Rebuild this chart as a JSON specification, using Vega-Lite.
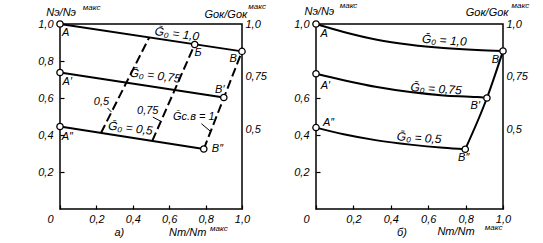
{
  "$schema": "https://vega.github.io/schema/vega-lite/v6.json",
  "background": "white",
  "padding": {"left": 36, "top": 1, "right": 0, "bottom": 0},
  "bounds": "flush",
  "spacing": 74,
  "config": {
    "view": {"stroke": "black", "strokeWidth": 1.5},
    "axis": {"grid": false, "domain": false, "labelFont": "Liberation Sans", "labelFontStyle": "italic", "labelFontSize": 11, "labelColor": "black", "tickColor": "black", "tickWidth": 1.2, "labelOverlap": false, "labelFlush": false},
    "text": {"font": "Liberation Sans", "fontStyle": "italic", "color": "black"}
  },
  "datasets": {
    "lines": [
      {"p": "a", "k": "curve", "s": "A", "x": 0, "y": 1.0},
      {"p": "a", "k": "curve", "s": "A", "x": 1.0, "y": 0.852},
      {"p": "a", "k": "curve", "s": "A1", "x": 0, "y": 0.738},
      {"p": "a", "k": "curve", "s": "A1", "x": 0.9, "y": 0.603},
      {"p": "a", "k": "curve", "s": "A2", "x": 0, "y": 0.446},
      {"p": "a", "k": "curve", "s": "A2", "x": 0.79, "y": 0.324},
      {"p": "a", "k": "dash", "s": "d05", "x": 0.225, "y": 0.411},
      {"p": "a", "k": "dash", "s": "d05", "x": 0.49, "y": 0.927},
      {"p": "a", "k": "dash", "s": "d075", "x": 0.507, "y": 0.368},
      {"p": "a", "k": "dash", "s": "d075", "x": 0.74, "y": 0.889},
      {"p": "a", "k": "dash", "s": "d1", "x": 0.79, "y": 0.324},
      {"p": "a", "k": "dash", "s": "d1", "x": 1.0, "y": 0.852},
      {"p": "a", "k": "lead", "s": "l1", "x": 0.261, "y": 0.546},
      {"p": "a", "k": "lead", "s": "l1", "x": 0.282, "y": 0.525},
      {"p": "a", "k": "lead", "s": "l2", "x": 0.51, "y": 0.497},
      {"p": "a", "k": "lead", "s": "l2", "x": 0.554, "y": 0.474},
      {"p": "a", "k": "lead", "s": "l3", "x": 0.777, "y": 0.461},
      {"p": "a", "k": "lead", "s": "l3", "x": 0.828, "y": 0.419},
      {"p": "b", "k": "curve", "s": "A", "x": 0, "y": 1.0},
      {"p": "b", "k": "curve", "s": "A", "x": 0.148, "y": 0.957},
      {"p": "b", "k": "curve", "s": "A", "x": 0.326, "y": 0.915},
      {"p": "b", "k": "curve", "s": "A", "x": 0.504, "y": 0.888},
      {"p": "b", "k": "curve", "s": "A", "x": 0.682, "y": 0.87},
      {"p": "b", "k": "curve", "s": "A", "x": 0.861, "y": 0.859},
      {"p": "b", "k": "curve", "s": "A", "x": 1.0, "y": 0.854},
      {"p": "b", "k": "curve", "s": "A1", "x": 0, "y": 0.731},
      {"p": "b", "k": "curve", "s": "A1", "x": 0.148, "y": 0.696},
      {"p": "b", "k": "curve", "s": "A1", "x": 0.326, "y": 0.659},
      {"p": "b", "k": "curve", "s": "A1", "x": 0.504, "y": 0.632},
      {"p": "b", "k": "curve", "s": "A1", "x": 0.682, "y": 0.614},
      {"p": "b", "k": "curve", "s": "A1", "x": 0.861, "y": 0.605},
      {"p": "b", "k": "curve", "s": "A1", "x": 0.914, "y": 0.6},
      {"p": "b", "k": "curve", "s": "A2", "x": 0, "y": 0.44},
      {"p": "b", "k": "curve", "s": "A2", "x": 0.148, "y": 0.404},
      {"p": "b", "k": "curve", "s": "A2", "x": 0.326, "y": 0.371},
      {"p": "b", "k": "curve", "s": "A2", "x": 0.504, "y": 0.348},
      {"p": "b", "k": "curve", "s": "A2", "x": 0.682, "y": 0.331},
      {"p": "b", "k": "curve", "s": "A2", "x": 0.798, "y": 0.323},
      {"p": "b", "k": "curve", "s": "B", "x": 0.798, "y": 0.323},
      {"p": "b", "k": "curve", "s": "B", "x": 0.914, "y": 0.6},
      {"p": "b", "k": "curve", "s": "B", "x": 1.0, "y": 0.854}
    ],
    "pts": [
      {"p": "a", "x": 0, "y": 1.0},
      {"p": "a", "x": 0.74, "y": 0.889},
      {"p": "a", "x": 1.0, "y": 0.852},
      {"p": "a", "x": 0, "y": 0.738},
      {"p": "a", "x": 0.9, "y": 0.603},
      {"p": "a", "x": 0, "y": 0.446},
      {"p": "a", "x": 0.79, "y": 0.324},
      {"p": "b", "x": 0, "y": 1.0},
      {"p": "b", "x": 1.0, "y": 0.854},
      {"p": "b", "x": 0, "y": 0.731},
      {"p": "b", "x": 0.914, "y": 0.6},
      {"p": "b", "x": 0, "y": 0.44},
      {"p": "b", "x": 0.798, "y": 0.323}
    ],
    "labels": [
      {"p": "a", "r": "cv", "x": 0.643, "y": 0.947, "t": "Ḡ₀ = 1,0"},
      {"p": "a", "r": "cv", "x": 0.523, "y": 0.721, "t": "Ḡ₀ = 0,75"},
      {"p": "a", "r": "cv", "x": 0.387, "y": 0.437, "t": "Ḡ₀ = 0,5"},
      {"p": "a", "r": "ann", "x": 0.228, "y": 0.579, "t": "0,5"},
      {"p": "a", "r": "ann", "x": 0.482, "y": 0.528, "t": "0,75"},
      {"p": "a", "r": "ann", "x": 0.735, "y": 0.497, "t": "Ḡс.в = 1"},
      {"p": "a", "r": "ttl", "x": 0.326, "y": -0.13, "t": "а)"},
      {"p": "a", "r": "pt", "x": 0.031, "y": 0.949, "t": "А"},
      {"p": "a", "r": "pt", "x": 0.759, "y": 0.843, "t": "Б"},
      {"p": "a", "r": "pt", "x": 0.952, "y": 0.812, "t": "В"},
      {"p": "a", "r": "pt", "x": 0.04, "y": 0.689, "t": "А′"},
      {"p": "a", "r": "pt", "x": 0.878, "y": 0.643, "t": "В′"},
      {"p": "a", "r": "pt", "x": 0.04, "y": 0.388, "t": "А″"},
      {"p": "a", "r": "pt", "x": 0.865, "y": 0.324, "t": "В″"},
      {"p": "a", "r": "ttl", "x": 0.006, "y": 1.057, "t": "Nэ/Nэ"},
      {"p": "a", "r": "sup", "x": 0.174, "y": 1.089, "t": "макс"},
      {"p": "a", "r": "ttl", "x": 0.911, "y": 1.051, "t": "Gок/Gок"},
      {"p": "a", "r": "sup", "x": 1.083, "y": 1.092, "t": "макс"},
      {"p": "a", "r": "ttl", "x": 0.702, "y": -0.13, "t": "Nт/Nт"},
      {"p": "a", "r": "sup", "x": 0.873, "y": -0.108, "t": "макс"},
      {"p": "b", "r": "cv", "x": 0.686, "y": 0.912, "t": "Ḡ₀ = 1,0"},
      {"p": "b", "r": "cv", "x": 0.642, "y": 0.65, "t": "Ḡ₀ = 0,75"},
      {"p": "b", "r": "cv", "x": 0.552, "y": 0.385, "t": "Ḡ₀ = 0,5"},
      {"p": "b", "r": "pt", "x": 0.044, "y": 0.948, "t": "А"},
      {"p": "b", "r": "pt", "x": 0.959, "y": 0.804, "t": "В"},
      {"p": "b", "r": "pt", "x": 0.05, "y": 0.663, "t": "А′"},
      {"p": "b", "r": "pt", "x": 0.852, "y": 0.555, "t": "В′"},
      {"p": "b", "r": "pt", "x": 0.067, "y": 0.465, "t": "А″"},
      {"p": "b", "r": "pt", "x": 0.79, "y": 0.275, "t": "В″"},
      {"p": "b", "r": "ttl", "x": 0.46, "y": -0.13, "t": "б)"},
      {"p": "b", "r": "ttl", "x": 0.018, "y": 1.065, "t": "Nэ/Nэ"},
      {"p": "b", "r": "sup", "x": 0.174, "y": 1.097, "t": "макс"},
      {"p": "b", "r": "ttl", "x": 0.915, "y": 1.061, "t": "Gок/Gок"},
      {"p": "b", "r": "sup", "x": 1.093, "y": 1.097, "t": "макс"},
      {"p": "b", "r": "ttl", "x": 0.749, "y": -0.122, "t": "Nт/Nт"},
      {"p": "b", "r": "sup", "x": 0.95, "y": -0.1, "t": "макс"}
    ],
    "rt": [{"g": 0.5}, {"g": 0.75}, {"g": 1.0}]
  },
  "hconcat": [
    {
      "width": 182, "height": 185,
      "layer": [
        {
          "encoding": {
            "x": {"field": "x", "type": "quantitative", "scale": {"domain": [0, 1], "nice": false, "zero": false},
              "axis": {"title": null, "values": [0, 0.2, 0.4, 0.6, 0.8, 1.0], "tickSize": -4, "labelPadding": 8, "labelOverlap": false, "labelFlush": false,
                "labelExpr": "datum.value == 0 ? '0' : replace(format(datum.value, '.1f'), '.', ',')",
                "labelOffset": {"condition": {"test": "datum.value == 0", "value": -10}, "value": 0}}},
            "y": {"field": "y", "type": "quantitative", "scale": {"domain": [0, 1], "nice": false, "zero": false},
              "axis": {"title": null, "values": [0.2, 0.4, 0.6, 0.8, 1.0], "tickSize": -4, "labelPadding": 11, "labelOverlap": false,
                "labelExpr": "replace(format(datum.value, '.1f'), '.', ',')"}}
          },
          "layer": [
            {
              "data": {"name": "lines"},
              "transform": [{"filter": "datum.p == 'a' && datum.k == 'curve'"}],
              "mark": {"type": "line", "color": "black", "strokeWidth": 2},
              "encoding": {"detail": {"field": "s"}, "order": {"field": "x"}}
            },
            {
              "data": {"name": "lines"},
              "transform": [{"filter": "datum.p == 'a' && datum.k == 'dash'"}],
              "mark": {"type": "line", "color": "black", "strokeWidth": 2, "strokeDash": [9, 4]},
              "encoding": {"detail": {"field": "s"}, "order": {"field": "x"}}
            },
            {
              "data": {"name": "lines"},
              "transform": [{"filter": "datum.p == 'a' && datum.k == 'lead'"}],
              "mark": {"type": "line", "color": "black", "strokeWidth": 1},
              "encoding": {"detail": {"field": "s"}, "order": {"field": "x"}}
            },
            {
              "data": {"name": "pts"},
              "transform": [{"filter": "datum.p == 'a'"}],
              "mark": {"type": "point", "shape": "circle", "filled": true, "fill": "white", "stroke": "black", "strokeWidth": 1.3, "size": 40, "opacity": 1}
            },
            {
              "data": {"name": "labels"},
              "transform": [{"filter": "datum.p == 'a' && datum.r == 'cv'"}],
              "mark": {"type": "text", "fontSize": 12, "angle": 7},
              "encoding": {"text": {"field": "t"}}
            },
            {
              "data": {"name": "labels"},
              "transform": [{"filter": "datum.p == 'a' && (datum.r == 'ann' || datum.r == 'pt' || datum.r == 'ttl')"}],
              "mark": {"type": "text", "fontSize": 11},
              "encoding": {"text": {"field": "t"}}
            },
            {
              "data": {"name": "labels"},
              "transform": [{"filter": "datum.p == 'a' && datum.r == 'sup'"}],
              "mark": {"type": "text", "fontSize": 8},
              "encoding": {"text": {"field": "t"}}
            }
          ]
        },
        {
          "data": {"name": "rt"},
          "mark": {"type": "rule", "opacity": 0},
          "encoding": {
            "y": {"field": "g", "type": "quantitative", "scale": {"domain": [0.126, 1], "nice": false, "zero": false},
              "axis": {"title": null, "orient": "right", "values": [0.5, 0.75, 1.0], "ticks": false, "labelPadding": 3, "labelOverlap": false,
                "labelExpr": "datum.value == 0.75 ? '0,75' : replace(format(datum.value, '.1f'), '.', ',')"}}
          }
        }
      ],
      "resolve": {"scale": {"y": "independent"}, "axis": {"y": "independent"}}
    },
    {
      "width": 187, "height": 185,
      "layer": [
        {
          "encoding": {
            "x": {"field": "x", "type": "quantitative", "scale": {"domain": [0, 1], "nice": false, "zero": false},
              "axis": {"title": null, "values": [0, 0.2, 0.4, 0.6, 0.8, 1.0], "tickSize": -4, "labelPadding": 8, "labelOverlap": false, "labelFlush": false,
                "labelExpr": "datum.value == 0 ? '0' : replace(format(datum.value, '.1f'), '.', ',')",
                "labelOffset": {"condition": {"test": "datum.value == 0", "value": -10}, "value": 0}}},
            "y": {"field": "y", "type": "quantitative", "scale": {"domain": [0, 1], "nice": false, "zero": false},
              "axis": {"title": null, "values": [0.2, 0.4, 0.6, 1.0], "tickSize": -4, "labelPadding": 11, "labelOverlap": false,
                "labelExpr": "replace(format(datum.value, '.1f'), '.', ',')"}}
          },
          "layer": [
            {
              "data": {"name": "lines"},
              "transform": [{"filter": "datum.p == 'b' && datum.k == 'curve'"}],
              "mark": {"type": "line", "color": "black", "strokeWidth": 2, "interpolate": "monotone"},
              "encoding": {"detail": {"field": "s"}, "order": {"field": "x"}}
            },
            {
              "data": {"name": "pts"},
              "transform": [{"filter": "datum.p == 'b'"}],
              "mark": {"type": "point", "shape": "circle", "filled": true, "fill": "white", "stroke": "black", "strokeWidth": 1.3, "size": 40, "opacity": 1}
            },
            {
              "data": {"name": "labels"},
              "transform": [{"filter": "datum.p == 'b' && datum.r == 'cv'"}],
              "mark": {"type": "text", "fontSize": 12, "angle": 4},
              "encoding": {"text": {"field": "t"}}
            },
            {
              "data": {"name": "labels"},
              "transform": [{"filter": "datum.p == 'b' && (datum.r == 'ann' || datum.r == 'pt' || datum.r == 'ttl')"}],
              "mark": {"type": "text", "fontSize": 11},
              "encoding": {"text": {"field": "t"}}
            },
            {
              "data": {"name": "labels"},
              "transform": [{"filter": "datum.p == 'b' && datum.r == 'sup'"}],
              "mark": {"type": "text", "fontSize": 8},
              "encoding": {"text": {"field": "t"}}
            }
          ]
        },
        {
          "data": {"name": "rt"},
          "mark": {"type": "rule", "opacity": 0},
          "encoding": {
            "y": {"field": "g", "type": "quantitative", "scale": {"domain": [0.126, 1], "nice": false, "zero": false},
              "axis": {"title": null, "orient": "right", "values": [0.5, 0.75, 1.0], "ticks": false, "labelPadding": 3, "labelOverlap": false,
                "labelExpr": "datum.value == 0.75 ? '0,75' : replace(format(datum.value, '.1f'), '.', ',')"}}
          }
        }
      ],
      "resolve": {"scale": {"y": "independent"}, "axis": {"y": "independent"}}
    }
  ]
}
